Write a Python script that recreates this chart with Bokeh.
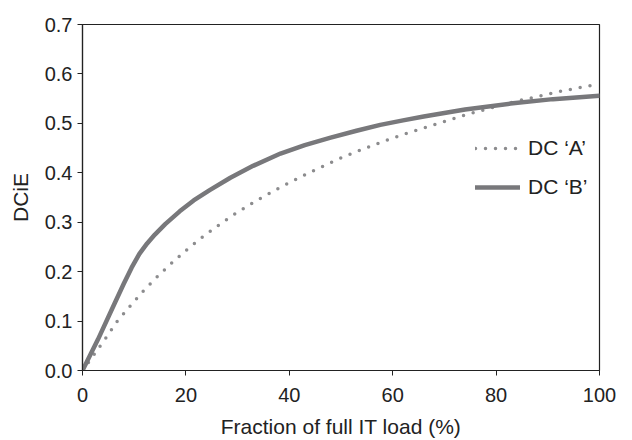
from bokeh.plotting import figure
from bokeh.embed import file_html
from bokeh.resources import INLINE
from bokeh.models import FixedTicker, PrintfTickFormatter, Legend, LegendItem, Range1d

load_a = [0, 1.2, 4.4, 6.6, 9.1, 11.5, 14.2, 16.9, 19.8, 22.7, 25.8, 28.9, 33.5, 38.9, 44, 49.3, 54, 58.3, 63, 67, 74.7, 84, 93, 100]
dc_a = [0.0, 0.017, 0.064, 0.098, 0.129, 0.158, 0.187, 0.214, 0.241, 0.266, 0.290, 0.313, 0.343, 0.374, 0.401, 0.427, 0.447, 0.464, 0.481, 0.494, 0.519, 0.545, 0.566, 0.580]

load_b = [0, 3, 6, 8, 9.5, 11, 12.5, 14, 16, 18.8, 21.5, 24.6, 28.6, 33, 38.3, 43, 48, 53, 57.6, 62, 66, 74, 82.8, 91, 100]
dc_b = [0.0, 0.063, 0.131, 0.176, 0.208, 0.236, 0.257, 0.275, 0.296, 0.322, 0.344, 0.365, 0.390, 0.414, 0.439, 0.456, 0.471, 0.485, 0.497, 0.506, 0.514, 0.528, 0.540, 0.549, 0.556]

x_ticks = [0, 20, 40, 60, 80, 100]
y_ticks = [0.0, 0.1, 0.2, 0.3, 0.4, 0.5, 0.6, 0.7]

FONT = "Liberation Sans"
TXT = "#222222"

p = figure(width=632, height=440, output_backend="svg", toolbar_location=None,
           x_range=Range1d(0, 100), y_range=Range1d(0, 0.7),
           min_border_left=82, min_border_right=33, min_border_top=24, min_border_bottom=70)

p.xgrid.visible = False
p.ygrid.visible = False
p.outline_line_color = "#222222"
p.outline_line_width = 1.2
p.background_fill_color = "white"
p.border_fill_color = "white"

ra = p.line(load_a, dc_a, line_color="#8c8c8e", line_width=3.5, line_dash="0 10", line_cap="round")
rb = p.line(load_b, dc_b, line_color="#78787b", line_width=4.5, line_cap="round", line_join="round")

for ax in (p.xaxis[0], p.yaxis[0]):
    ax.axis_line_color = "#222222"
    ax.axis_line_width = 1.2
    ax.major_tick_line_color = "#222222"
    ax.major_tick_in = 0
    ax.major_tick_out = 5
    ax.minor_tick_line_color = None
    ax.major_label_text_font = FONT
    ax.major_label_text_font_size = "20px"
    ax.major_label_text_color = TXT
    ax.axis_label_text_font = FONT
    ax.axis_label_text_font_size = "21px"
    ax.axis_label_text_font_style = "normal"
    ax.axis_label_text_color = TXT

p.xaxis.ticker = FixedTicker(ticks=x_ticks)
p.yaxis.ticker = FixedTicker(ticks=y_ticks)
p.yaxis.formatter = PrintfTickFormatter(format="%.1f")
p.xaxis.axis_label = "Fraction of full IT load (%)"
p.yaxis.axis_label = "DCiE"
p.xaxis.major_label_standoff = 12
p.yaxis.major_label_standoff = 5
p.xaxis.axis_label_standoff = 10
p.yaxis.axis_label_standoff = 10

legend = Legend(items=[LegendItem(label="DC \u2018A\u2019", renderers=[ra]),
                       LegendItem(label="DC \u2018B\u2019", renderers=[rb])],
                location=(393, 171), glyph_width=45, glyph_height=22, label_height=22,
                spacing=15, padding=0, margin=0, label_standoff=8,
                border_line_color=None, background_fill_alpha=0,
                label_text_font=FONT, label_text_font_size="21px", label_text_color=TXT)
p.add_layout(legend, "center")

open("out.html", "w").write(file_html(p, INLINE))
